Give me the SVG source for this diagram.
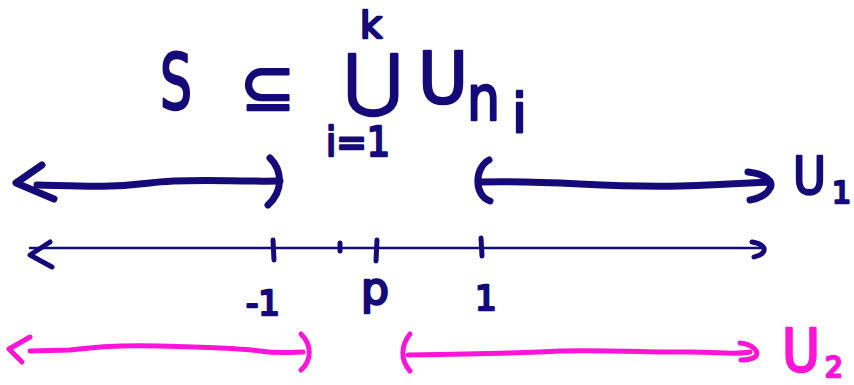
<svg xmlns="http://www.w3.org/2000/svg" width="854" height="385" viewBox="0 0 854 385">
<style>
.n{fill:#150a78;stroke:#150a78;stroke-width:2.5;stroke-linejoin:round;font-family:"DejaVu Sans",sans-serif}
.m{fill:#ff14d8;stroke:#ff14d8;stroke-width:2.5;stroke-linejoin:round;font-family:"DejaVu Sans",sans-serif}
.th{fill:none;stroke:#150a78;stroke-width:7;stroke-linecap:round;stroke-linejoin:round}
.tn{fill:none;stroke:#150a78;stroke-width:2.5;stroke-linecap:round;stroke-linejoin:round}
.mk{fill:none;stroke:#150a78;stroke-width:5;stroke-linecap:round;stroke-linejoin:round}
.pk{fill:none;stroke:#ff14d8;stroke-width:5;stroke-linecap:round;stroke-linejoin:round}
</style>
<rect width="854" height="385" fill="#fff"/>
<g id="formula">
<text class="n" x="160" y="109" font-size="76" textLength="32" lengthAdjust="spacingAndGlyphs">S</text>
<text class="n" x="240" y="110" font-size="66">⊆</text>
<text class="n" x="344" y="103" font-size="68" textLength="58" lengthAdjust="spacingAndGlyphs">⋃</text>
<text class="n" x="360" y="38" font-size="38">k</text>
<text class="n" x="326" y="156" font-size="40" textLength="64" lengthAdjust="spacingAndGlyphs">i=1</text>
<text class="n" x="418" y="103" font-size="72" textLength="50" lengthAdjust="spacingAndGlyphs">U</text>
<text class="n" x="467" y="120" font-size="62" textLength="33" lengthAdjust="spacingAndGlyphs">n</text>
<text class="n" x="512" y="132" font-size="54">i</text>
</g>
<g id="connectors">
<path class="th" d="M37,185 C80,186 110,188 150,183 C190,178 230,182 280,181"/>
<path class="th" d="M42,165 L16,183 L54,199"/>
<path class="th" d="M270,158 C282,170 284,190 268,205"/>
<path class="th" d="M481,182 C560,180 600,188 680,186 C720,185 750,183 770,182"/>
<path class="th" d="M489,160 C474,168 474,196 490,201"/>
<path class="th" d="M748,172 C766,174 774,182 770,188 C766,196 756,199 750,200"/>
<path class="tn" d="M30,248 L765,248"/>
<path class="mk" d="M50,242 L30,255 L52,267"/>
<path class="mk" d="M752,242 C764,244 768,250 760,255 L754,257"/>
<path class="pk" d="M30,351 L70,350 C100,346 130,345 160,346 C200,347 240,348 260,351 C280,354 295,352 303,352"/>
<path class="pk" d="M30,337 L9,349 L22,362"/>
<path class="pk" d="M301,334 C312,345 312,360 301,370"/>
<path class="pk" d="M408,355 C480,354 530,353 560,351 C600,350 650,352 690,352 C720,352 735,355 750,352"/>
<path class="pk" d="M410,334 C401,345 400,360 410,371"/>
<path class="pk" d="M740,343 C752,344 761,352 755,357 C750,360 745,360 741,360"/>
</g>
<g id="ticks">
<path class="mk" d="M273,240 L274,260"/>
<path class="mk" d="M340,243 L340,251"/>
<path class="mk" d="M377,240 L376,261"/>
<path class="mk" d="M481,238 L482,256"/>
</g>
<g id="labels">
<text class="n" x="246" y="315" font-size="34">-1</text>
<text class="n" x="361" y="304" font-size="44">p</text>
<text class="n" x="475" y="310" font-size="34">1</text>
<text class="n" x="793" y="194" font-size="52" textLength="33" lengthAdjust="spacingAndGlyphs">U</text>
<text class="n" x="832" y="203" font-size="30">1</text>
<text class="m" x="782" y="371" font-size="58" textLength="38" lengthAdjust="spacingAndGlyphs">U</text>
<text class="m" x="825" y="377" font-size="28">2</text>
</g>
</svg>
